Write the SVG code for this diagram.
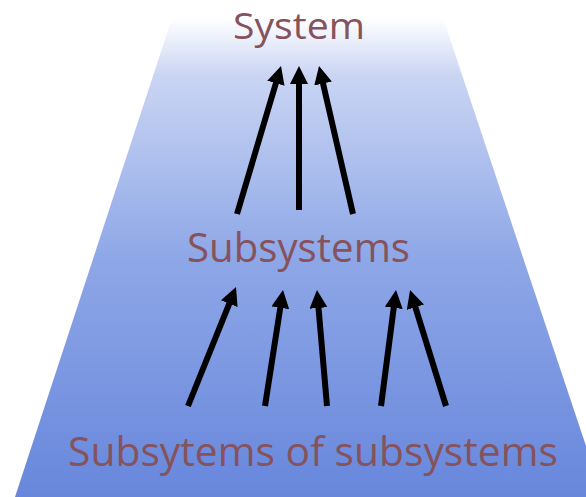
<svg xmlns="http://www.w3.org/2000/svg" width="586" height="497" viewBox="0 0 586 497">
<defs>
<linearGradient id="bg" x1="0" y1="18" x2="0" y2="497" gradientUnits="userSpaceOnUse">
<stop offset="0" stop-color="#ffffff"/>
<stop offset="0.12" stop-color="#cad5f3"/>
<stop offset="0.5" stop-color="#8ea7e7"/>
<stop offset="1" stop-color="#6887dc"/>
</linearGradient>
<marker id="ah" markerUnits="userSpaceOnUse" viewBox="0 -9 18 18" refX="6" refY="0" markerWidth="18" markerHeight="18" orient="auto">
<path d="M0,-9 L18,0 L0,9 z" fill="#000"/>
</marker>
<style>
.lbl{font-family:"Open Sans","Liberation Sans",sans-serif;fill:#86525c;}
.arr{stroke:#000;stroke-width:6;fill:none;marker-end:url(#ah);}
</style>
</defs>
<polygon id="trapezoid" points="172,18 443,18 603,497 15,497" fill="url(#bg)"/>
<g id="system"><text class="lbl" x="233" y="39" font-size="37" textLength="132" lengthAdjust="spacingAndGlyphs">System</text></g>
<g id="subsystems"><text class="lbl" x="187" y="262" font-size="41" textLength="223" lengthAdjust="spacingAndGlyphs">Subsystems</text></g>
<g id="subsubsystems"><text class="lbl" x="68" y="466" font-size="41" textLength="490" lengthAdjust="spacingAndGlyphs">Subsytems of subsystems</text></g>
<g id="connectors">
<line class="arr" x1="237" y1="214" x2="277.6" y2="77.5"/>
<line class="arr" x1="299" y1="210" x2="299" y2="78"/>
<line class="arr" x1="353" y1="214" x2="321.7" y2="77.7"/>
<line class="arr" x1="188" y1="406" x2="231.5" y2="298.1"/>
<line class="arr" x1="265" y1="406" x2="281.2" y2="301.9"/>
<line class="arr" x1="327" y1="406" x2="318" y2="302"/>
<line class="arr" x1="381" y1="406" x2="394.5" y2="301.9"/>
<line class="arr" x1="446" y1="406" x2="413.6" y2="301.5"/>
</g>
</svg>
